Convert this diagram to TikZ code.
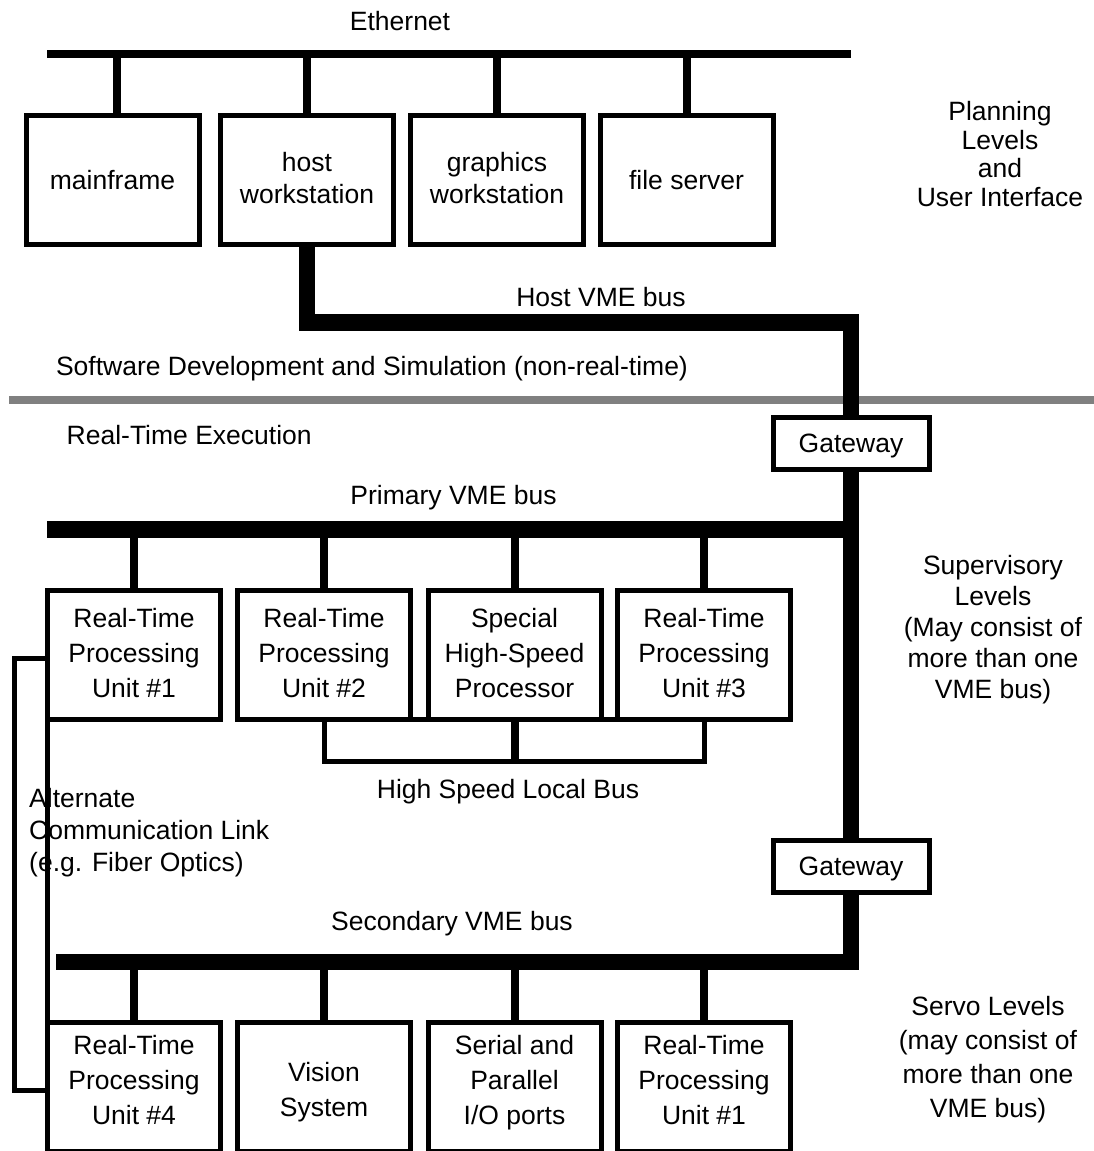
\documentclass[tikz,border=0pt]{standalone}
\usepackage{fontspec}
\setmainfont{Liberation Sans}
\definecolor{sepgray}{gray}{0.5}
\begin{document}
\begin{tikzpicture}[x=1pt,y=-1pt,
  txt/.style={font=\fontsize{26.5}{35}\selectfont, align=center, inner sep=0pt},
  unitbox/.style={draw, line width=5pt, minimum width=173pt, minimum height=129pt,
    outer sep=0pt, inner sep=0pt, align=center, font=\fontsize{26.5}{35}\selectfont},
  gatebox/.style={draw, line width=5pt, fill=white, minimum width=156pt, minimum height=52pt,
    outer sep=0pt, inner sep=0pt, text depth=0pt, font=\fontsize{26.5}{35}\selectfont},
  ethbus/.style={line width=8.3pt},
  stub/.style={line width=8pt},
  vmebus/.style={line width=16.5pt, line join=miter},
  thinlink/.style={line width=5pt, line join=miter},
  sepline/.style={line width=8pt, draw=sepgray}]

\useasboundingbox (0,0) rectangle (1094,1151);
\clip (0,0) rectangle (1094,1151);

% separation between non-real-time and real-time parts
\draw[sepline] (9,400) -- (1094,400);

% ---------- planning level: Ethernet ----------
\node[txt, anchor=base] (ethlbl) at (400,30) {Ethernet};
\coordinate (ethL) at (47,54);
\coordinate (ethR) at (851,54);
\draw[ethbus] (ethL) -- (ethR);

\node[unitbox] (mf) at (112.5,180) {mainframe};
\node[unitbox, label={[txt, font=\fontsize{26.5}{32.5}\selectfont, yshift=2pt]center:{host\\workstation}}] (hw) at (307,180) {};
\node[unitbox, label={[txt, font=\fontsize{26.5}{32.5}\selectfont, yshift=2pt]center:{graphics\\workstation}}] (gw) at (497,180) {};
\node[unitbox] (fs) at (686.5,180) {file server};

\draw[stub] ([xshift=4.5pt]mf.north) -- ([xshift=4.5pt]mf.north |- ethL);
\foreach \n in {hw,gw,fs}
  \draw[stub] (\n.north) -- (\n.north |- ethL);

\node[txt, font=\fontsize{26.5}{28.5}\selectfont] (plan) at (1000,154)
  {Planning\\Levels\\and\\User Interface};

% ---------- host VME bus and backbone ----------
\node[txt, anchor=base] (hostlbl) at (601,306) {Host VME bus};
\node[txt, anchor=base] (swlbl) at (372,375) {Software Development and Simulation (non-real-time)};
\node[txt, anchor=base west] (rtlbl) at (66.5,444) {Real-Time Execution};

\node[gatebox] (gw1) at (851,443) {Gateway};
\node[gatebox] (gw2) at (851,866) {Gateway};

\coordinate (hostcorner) at (851,322.5);
\draw[vmebus] (hw.south) |- (hostcorner) -- (gw1.north);
\draw[vmebus] (gw1.south) -- (gw2.north);

% ---------- primary VME bus ----------
\node[txt, anchor=base] (prilbl) at (453.5,504) {Primary VME bus};
\coordinate (priL) at (47,529.5);
\draw[vmebus] (priL) -- (priL -| gw1.south);

\node[unitbox, label={[txt, yshift=2pt]center:{Real-Time\\Processing\\Unit \#1}}] (r1) at (134,655) {};
\node[unitbox, label={[txt, yshift=2pt]center:{Real-Time\\Processing\\Unit \#2}}] (r2) at (324,655) {};
\node[unitbox, label={[txt, yshift=2pt]center:{Special\\High-Speed\\Processor}}] (sp) at (514.5,655) {};
\node[unitbox, label={[txt, yshift=2pt]center:{Real-Time\\Processing\\Unit \#3}}] (r3) at (704,655) {};

\foreach \n in {r1,r2,sp,r3}
  \draw[stub] (\n.north) -- (\n.north |- priL);

% high speed local bus
\coordinate (lb) at (514.5,761.5);
\draw[thinlink] (r2.south east) -- (r3.south west);
\draw[thinlink] (r2.south) |- (lb) -| (r3.south);
\draw[stub] (sp.south) -- (lb);
\node[txt, anchor=base] (lblbl) at (508,798) {High Speed Local Bus};

\node[txt, font=\fontsize{26.5}{31}\selectfont] (suplbl) at (993,630)
  {Supervisory\\Levels\\(May consist of\\more than one\\VME bus)};

% ---------- secondary VME bus ----------
\node[txt, anchor=base] (seclbl) at (452,930) {Secondary VME bus};
\coordinate (secL) at (56,962);
\draw[vmebus] (gw2.south) |- (secL);

\node[unitbox, label={[txt, yshift=7pt]center:{Real-Time\\Processing\\Unit \#4}}] (r4) at (134,1087) {};
\node[unitbox, label={[txt, yshift=-5pt]center:{Vision\\System}}] (vs) at (324,1087) {};
\node[unitbox, label={[txt, yshift=4pt]center:{Serial and\\Parallel\\I/O ports}}] (io) at (514.5,1087) {};
\node[unitbox, label={[txt, yshift=7pt]center:{Real-Time\\Processing\\Unit \#1}}] (r5) at (704,1087) {};

\foreach \n in {r4,vs,io,r5}
  \draw[stub] (\n.north) -- (\n.north |- secL);

\node[txt, font=\fontsize{26.5}{34}\selectfont] (servolbl) at (988,1060)
  {Servo Levels\\(may consist of\\more than one\\VME bus)};

% ---------- alternate communication link ----------
\coordinate (altT) at (14,658);
\coordinate (altB) at (14,1090.5);
\draw[thinlink] (r1.west |- altT) -- (altT) -- (altB) -- (altB -| r4.west);
\draw[thinlink] (r1.south west) -- (r4.north west);
\node[txt, align=left, anchor=west, font=\fontsize{26.5}{32}\selectfont] (altlbl) at (29,833)
  {Alternate\\Communication Link\\(e.g. Fiber Optics)};

\end{tikzpicture}
\end{document}
